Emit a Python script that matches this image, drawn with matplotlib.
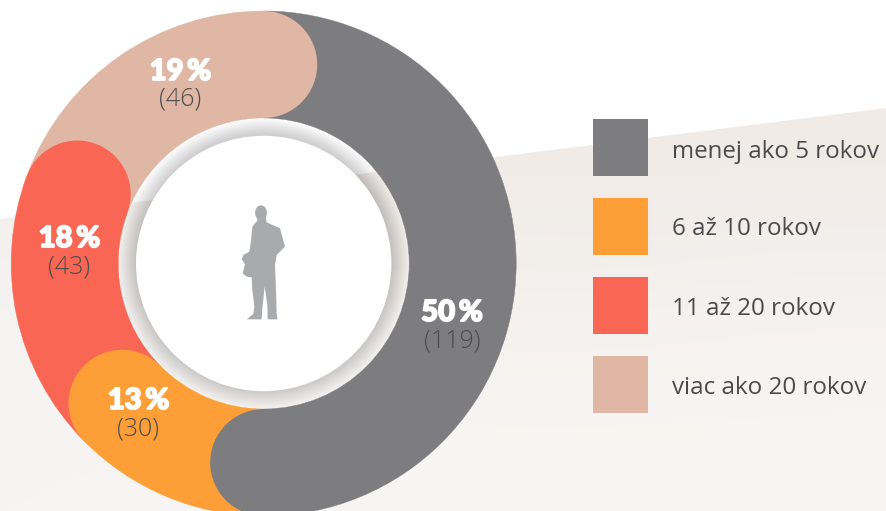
import numpy as np
import matplotlib
matplotlib.use("Agg")
import matplotlib.pyplot as plt
from matplotlib.patches import Wedge, Circle, Rectangle, Polygon, Ellipse
import matplotlib.patheffects as pe

categories = ["menej ako 5 rokov", "6 až 10 rokov", "11 až 20 rokov", "viac ako 20 rokov"]
counts = [119, 30, 43, 46]
percents = ["50\u2009%", "13\u2009%", "18\u2009%", "19\u2009%"]
colors = ["#7d7d7f", "#fd9f36", "#f96654", "#e0b6a5"]

W, H = 887, 511
cx, cy = 263.7, 263.5
R_out, R_in, R_white = 252.5, 145.5, 127.7

fig = plt.figure(figsize=(W / 100, H / 100), dpi=100, facecolor="white")
ax = fig.add_axes([0, 0, 1, 1])
ax.set_xlim(0, W)
ax.set_ylim(H, 0)
ax.axis("off")

# paper background
paper_pts = [(0, 219), (887, 108), (887, 511), (0, 511)]
paper = Polygon(paper_pts, closed=True, facecolor="none", edgecolor="none")
ax.add_patch(paper)
shade = np.array([
    [[241, 238, 235], [240, 235, 231], [241, 235, 231], [241, 235, 231]],
    [[244, 242, 240], [243, 240, 237], [242, 238, 234], [243, 239, 236]],
    [[246, 244, 243], [246, 244, 242], [245, 243, 240], [246, 244, 241]],
    [[246, 245, 244], [247, 246, 244], [247, 246, 244], [247, 246, 244]],
], dtype=float) / 255
im = ax.imshow(shade, extent=(0, W, H, 100), interpolation="bicubic", aspect="auto", zorder=0)
im.set_clip_path(paper)
ax.set_xlim(0, W)
ax.set_ylim(H, 0)

# halo around the white disc
levels = np.linspace(0, 1, 24)
for t in levels:
    r = R_in - t * (R_in - R_white)
    ax.add_patch(Circle((cx, cy - 2 * t), r, facecolor="black", edgecolor="none",
                        alpha=0.0065, zorder=1))
ax.add_patch(Circle((cx, cy), R_white, facecolor="white", edgecolor="none", zorder=1.5))

# ring with rounded ends
total = sum(counts)
R_mid = (R_out + R_in) / 2
half = (R_out - R_in) / 2
start = 0.0
caps = []
for n, c in zip(counts, colors):
    end = start + 360.0 * n / total
    ax.add_patch(Wedge((cx, cy), R_out, start - 90, end - 90, width=R_out - R_in,
                       facecolor=c, edgecolor=c, lw=0.3, zorder=2))
    a = np.radians(end)
    caps.append((cx + R_mid * np.sin(a), cy - R_mid * np.cos(a), c))
    start = end
for x, y, c in caps:
    ax.add_patch(Circle((x, y), half, facecolor=c, edgecolor="none", zorder=3))

# value labels
pct_xy = [(452, 321), (138.5, 409), (69.5, 247), (180.5, 80)]
cnt_xy = [(452, 348), (138.5, 436), (69.5, 274), (180.5, 106)]
for p, n, (px, py), (qx, qy) in zip(percents, counts, pct_xy, cnt_xy):
    ax.text(px, py, p, color="white", fontsize=21, fontfamily=["Lato", "DejaVu Sans"],
            fontweight="black", ha="center", va="baseline", zorder=5,
            path_effects=[pe.withStroke(linewidth=1.3, foreground="white")])
    ax.text(qx, qy, f"({n})", color="#4c4c4e", fontsize=18, fontfamily="Open Sans",
            fontweight="light", ha="center", va="baseline", zorder=5)

# legend
box_tops = [119, 198, 277, 356]
baselines = [158, 235, 315, 394]
for top, base, c, label in zip(box_tops, baselines, colors, categories):
    ax.add_patch(Rectangle((593, top), 55, 57, facecolor=c, edgecolor="none", zorder=4))
    ax.text(672, base, label, color="#4b4b4d", fontsize=17.4, fontfamily="Open Sans",
            ha="left", va="baseline", zorder=5)

# figure silhouette
body = [(112, 75), (112, 92), (97, 110), (92, 160), (88, 185), (70, 195), (65, 208), (75, 222),
        (68, 250), (80, 260), (95, 262), (97, 300), (103, 350), (100, 372), (80, 388), (125, 388),
        (127, 355), (134, 290), (142, 345), (143, 388), (172, 388), (170, 370), (168, 300),
        (165, 225), (170, 195), (195, 170), (180, 115), (140, 97), (136, 75)]
body_px = [(220 + x / 3, 190 + y / 3) for x, y in body]
ax.add_patch(Polygon(body_px, closed=True, facecolor="#a9aaac", edgecolor="none", zorder=4))
ax.add_patch(Ellipse((261, 212.8), 11.8, 15, facecolor="#a9aaac", edgecolor="none", zorder=4))

fig.savefig("out.png", dpi=100)
